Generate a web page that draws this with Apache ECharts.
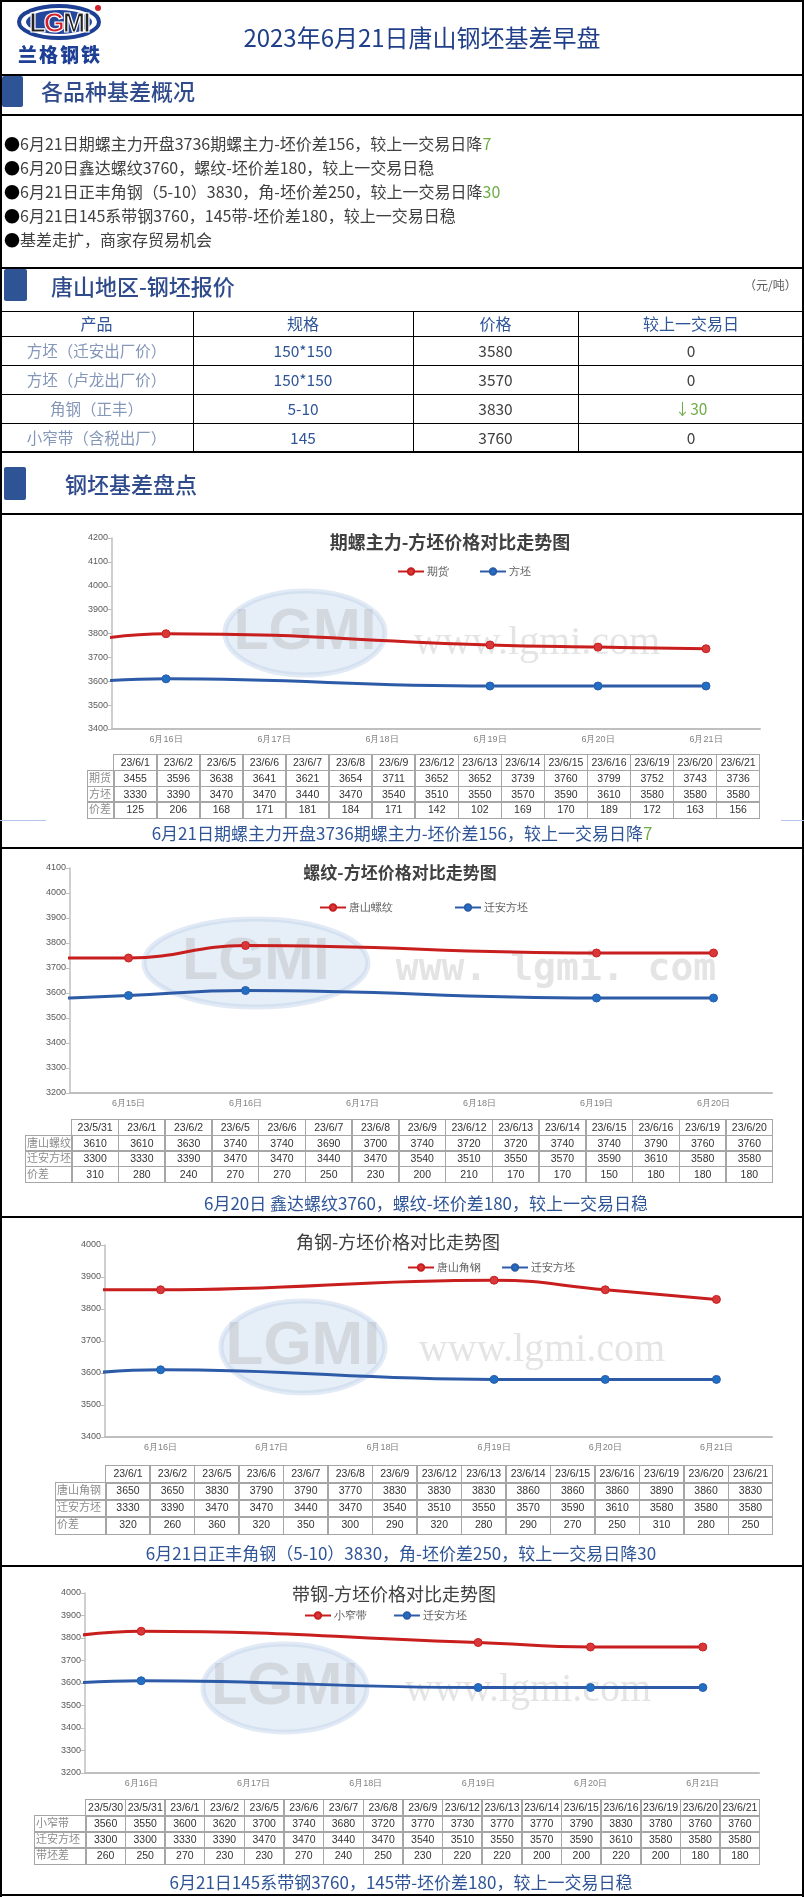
<!DOCTYPE html>
<html>
<head>
<meta charset="utf-8">
<script src="https://cdn.jsdelivr.net/npm/echarts@6/dist/echarts.min.js"></script>
<style>
body{margin:0;background:#fff;}
#page{position:relative;width:804px;height:1897px;overflow:hidden;font-family:"Noto Sans CJK SC",sans-serif;background:#fff;}
#chart{position:absolute;left:0;top:0;width:804px;height:1897px;}
.a{position:absolute;white-space:nowrap;}
.ln{position:absolute;background:#000;}
.cell{position:absolute;box-sizing:border-box;border:1.5px solid #a6a6a6;text-align:center;overflow:hidden;white-space:nowrap;font-family:"Liberation Sans","Noto Sans CJK SC",sans-serif;color:#333;}
.cap{position:absolute;left:0;width:804px;text-align:center;color:#2f5597;font-size:17px;white-space:nowrap;}
.blk{position:absolute;background:#2f5496;border-radius:2px;}
.sec{position:absolute;color:#2f4b8c;font-size:22px;font-weight:500;white-space:nowrap;}
.g{color:#70ad47;}
</style>
</head>
<body>
<div id="page">
  <div id="chart"></div>
  <div id="overlay"></div>
</div>
<script>
// ---- 顶部报价表 ----
var priceHead = ['产品', '规格', '价格', '较上一交易日'];
var priceProduct = ['方坯（迁安出厂价）', '方坯（卢龙出厂价）', '角钢（正丰）', '小窄带（含税出厂）'];
var priceSpec = ['150*150', '150*150', '5-10', '145'];
var pricePrice = [3580, 3570, 3830, 3760];
var priceChange = ['0', '0', '↓30', '0'];

// ---- 图1 期螺主力-方坯 ----
var c1Days = ['6月16日', '6月17日', '6月18日', '6月19日', '6月20日', '6月21日'];
var c1Dates = ['23/6/1', '23/6/2', '23/6/5', '23/6/6', '23/6/7', '23/6/8', '23/6/9', '23/6/12', '23/6/13', '23/6/14', '23/6/15', '23/6/16', '23/6/19', '23/6/20', '23/6/21'];
var c1Futures = [3455, 3596, 3638, 3641, 3621, 3654, 3711, 3652, 3652, 3739, 3760, 3799, 3752, 3743, 3736];
var c1Billet = [3330, 3390, 3470, 3470, 3440, 3470, 3540, 3510, 3550, 3570, 3590, 3610, 3580, 3580, 3580];
var c1Spread = [125, 206, 168, 171, 181, 184, 171, 142, 102, 169, 170, 189, 172, 163, 156];

// ---- 图2 螺纹-方坯 ----
var c2Days = ['6月15日', '6月16日', '6月17日', '6月18日', '6月19日', '6月20日'];
var c2Dates = ['23/5/31', '23/6/1', '23/6/2', '23/6/5', '23/6/6', '23/6/7', '23/6/8', '23/6/9', '23/6/12', '23/6/13', '23/6/14', '23/6/15', '23/6/16', '23/6/19', '23/6/20'];
var c2Rebar = [3610, 3610, 3630, 3740, 3740, 3690, 3700, 3740, 3720, 3720, 3740, 3740, 3790, 3760, 3760];
var c2Billet = [3300, 3330, 3390, 3470, 3470, 3440, 3470, 3540, 3510, 3550, 3570, 3590, 3610, 3580, 3580];
var c2Spread = [310, 280, 240, 270, 270, 250, 230, 200, 210, 170, 170, 150, 180, 180, 180];

// ---- 图3 角钢-方坯 ----
var c3Days = ['6月16日', '6月17日', '6月18日', '6月19日', '6月20日', '6月21日'];
var c3Dates = ['23/6/1', '23/6/2', '23/6/5', '23/6/6', '23/6/7', '23/6/8', '23/6/9', '23/6/12', '23/6/13', '23/6/14', '23/6/15', '23/6/16', '23/6/19', '23/6/20', '23/6/21'];
var c3Angle = [3650, 3650, 3830, 3790, 3790, 3770, 3830, 3830, 3830, 3860, 3860, 3860, 3890, 3860, 3830];
var c3Billet = [3330, 3390, 3470, 3470, 3440, 3470, 3540, 3510, 3550, 3570, 3590, 3610, 3580, 3580, 3580];
var c3Spread = [320, 260, 360, 320, 350, 300, 290, 320, 280, 290, 270, 250, 310, 280, 250];

// ---- 图4 带钢-方坯 ----
var c4Days = ['6月16日', '6月17日', '6月18日', '6月19日', '6月20日', '6月21日'];
var c4Dates = ['23/5/30', '23/5/31', '23/6/1', '23/6/2', '23/6/5', '23/6/6', '23/6/7', '23/6/8', '23/6/9', '23/6/12', '23/6/13', '23/6/14', '23/6/15', '23/6/16', '23/6/19', '23/6/20', '23/6/21'];
var c4Strip = [3560, 3550, 3600, 3620, 3700, 3740, 3680, 3720, 3770, 3730, 3770, 3770, 3790, 3830, 3780, 3760, 3760];
var c4Billet = [3300, 3300, 3330, 3390, 3470, 3470, 3440, 3470, 3540, 3510, 3550, 3570, 3590, 3610, 3580, 3580, 3580];
var c4Spread = [260, 250, 270, 230, 230, 270, 240, 250, 230, 220, 220, 200, 200, 220, 200, 180, 180];

var RED = '#c81e1e', BLUE = '#2d5ba8';

/* 图表布局 */
var layouts = [
  {plot: [112, 538, 760, 729], ymin: 3400, ymax: 4200, days: c1Days, dates: c1Dates,
   title: '期螺主力-方坯价格对比走势图', tx: 450, ty: 542, tw: 'bold', ts: 18,
   lx: 392, ly: 568, lgap: 30, names: ['期货', '方坯'], vals: [c1Futures, c1Billet],
   wm: {cx: 305, cy: 633, rx: 80, ry: 42, tx: 537, ty: 643, mono: false},
   tbl: {x: 87, lw: 26, w: 759, y: 754, h: 15.75, labels: ['期货', '方坯', '价差'], rows: [c1Futures, c1Billet, c1Spread]}},
  {plot: [70, 868, 772, 1093], ymin: 3200, ymax: 4100, days: c2Days, dates: c2Dates,
   title: '螺纹-方坯价格对比走势图', tx: 400, ty: 873, tw: 'bold', ts: 17,
   lx: 314, ly: 904, lgap: 61, names: ['唐山螺纹', '迁安方坯'], vals: [c2Rebar, c2Billet],
   wm: {cx: 256, cy: 963, rx: 112, ry: 44, tx: 556, ty: 970, mono: true},
   tbl: {x: 25, lw: 46, w: 772, y: 1119, h: 15.5, labels: ['唐山螺纹', '迁安方坯', '价差'], rows: [c2Rebar, c2Billet, c2Spread]}},
  {plot: [105, 1245, 772, 1437], ymin: 3400, ymax: 4000, days: c3Days, dates: c3Dates,
   title: '角钢-方坯价格对比走势图', tx: 398, ty: 1242, tw: 'normal', ts: 18,
   lx: 402, ly: 1264, lgap: 20, names: ['唐山角钢', '迁安方坯'], vals: [c3Angle, c3Billet],
   wm: {cx: 303, cy: 1347, rx: 82, ry: 46, tx: 542, ty: 1350, mono: false},
   tbl: {x: 55, lw: 50, w: 772, y: 1465, h: 17, labels: ['唐山角钢', '迁安方坯', '价差'], rows: [c3Angle, c3Billet, c3Spread]}},
  {plot: [85, 1593, 759, 1773], ymin: 3200, ymax: 4000, days: c4Days, dates: c4Dates,
   title: '带钢-方坯价格对比走势图', tx: 394, ty: 1594, tw: 'normal', ts: 18,
   lx: 299, ly: 1612, lgap: 26, names: ['小窄带', '迁安方坯'], vals: [c4Strip, c4Billet],
   wm: {cx: 285, cy: 1688, rx: 82, ry: 44, tx: 528, ty: 1690, mono: false},
   tbl: {x: 34, lw: 51, w: 759, y: 1799, h: 16, labels: ['小窄带', '迁安方坯', '带坯差'], rows: [c4Strip, c4Billet, c4Spread]}}
];

// 日期 -> 横轴位置（以第一个分类日为0.5）
function toPoints(dates, values, firstLabel) {
  var m = /(\d+)月(\d+)日/.exec(firstLabel);
  var start = new Date(2023, +m[1] - 1, +m[2]);
  return dates.map(function (d, k) {
    var p = d.split('/');
    var t = new Date(2000 + (+p[0]), +p[1] - 1, +p[2]);
    return [(t - start) / 864e5 + 0.5, values[k]];
  });
}

var option = {animation: false, grid: [], xAxis: [], yAxis: [], series: [], legend: [], graphic: []};

layouts.forEach(function (L, i) {
  var p = L.plot;
  option.grid.push({left: p[0], top: p[1], width: p[2] - p[0], height: p[3] - p[1]});
  option.xAxis.push({
    type: 'category', gridIndex: i, data: L.days, boundaryGap: true,
    axisLine: {lineStyle: {color: '#bfbfbf', width: 2}},
    axisTick: {length: 5, lineStyle: {color: '#bfbfbf', width: 1.5}},
    axisLabel: {color: '#7f7f7f', fontSize: 9, margin: 6}
  });
  option.xAxis.push({type: 'value', gridIndex: i, min: 0, max: L.days.length, show: false});
  option.yAxis.push({
    type: 'value', gridIndex: i, min: L.ymin, max: L.ymax, interval: 100,
    axisLine: {show: true, lineStyle: {color: '#bfbfbf', width: 1.5}},
    axisTick: {show: true, length: 4, lineStyle: {color: '#bfbfbf'}},
    splitLine: {show: false},
    axisLabel: {color: '#595959', fontSize: 9, margin: 4, formatter: function (v) { return String(v); }}
  });
  [RED, BLUE].forEach(function (col, s) {
    option.series.push({
      type: 'line', name: L.names[s], xAxisIndex: i * 2 + 1, yAxisIndex: i,
      data: toPoints(L.dates, L.vals[s], L.days[0]),
      smooth: 0.45, symbol: 'circle', symbolSize: 8, clip: true,
      lineStyle: {color: col, width: 3},
      itemStyle: {color: s === 0 ? '#d8383a' : '#1f6fc5', borderColor: col, borderWidth: 1}
    });
  });
  option.legend.push({
    left: L.lx, top: L.ly - 7, itemGap: L.lgap, itemWidth: 26, itemHeight: 8,
    selectedMode: false, data: L.names,
    textStyle: {fontSize: 11, color: '#595959', padding: [0, 0, 0, -2]}
  });
  // 标题
  option.graphic.push({
    type: 'text', x: L.tx, y: L.ty, z: 10,
    style: {text: L.title, fill: '#404040', textAlign: 'center', textVerticalAlign: 'middle',
      font: L.tw + ' ' + L.ts + 'px "Noto Sans CJK SC"'}
  });
  // 水印
  var w = L.wm;
  option.graphic.push({
    type: 'ellipse', z: 0, shape: {cx: w.cx, cy: w.cy, rx: w.rx, ry: w.ry},
    style: {fill: 'rgba(205,221,241,0.5)', stroke: 'rgba(190,208,232,0.45)', lineWidth: 5}
  });
  option.graphic.push({
    type: 'text', z: 1, x: w.cx, y: w.cy,
    style: {text: 'LGMI', fill: 'rgba(165,165,165,0.3)', textAlign: 'center', textVerticalAlign: 'middle',
      font: 'bold ' + Math.round(w.ry * 1.35) + 'px "Liberation Sans"'}
  });
  option.graphic.push({
    type: 'text', z: 1, x: w.tx, y: w.ty,
    style: {text: w.mono ? 'www. lgmi. com' : 'www.lgmi.com', fill: 'rgba(165,165,165,0.3)',
      textAlign: 'center', textVerticalAlign: 'middle',
      font: w.mono ? 'bold 38px "DejaVu Sans Mono"' : '40px "Liberation Serif"'}
  });
});

var chart = echarts.init(document.getElementById('chart'));
chart.setOption(option);

// ---- HTML 部分 ----
var ov = document.getElementById('overlay');
function add(html) { ov.insertAdjacentHTML('beforeend', html); }
function line(x, y, w, h, c) { add('<div class="ln" style="left:' + x + 'px;top:' + y + 'px;width:' + w + 'px;height:' + h + 'px;' + (c ? 'background:' + c : '') + '"></div>'); }

// 外框与分隔线
line(0, 0, 804, 2); line(0, 0, 2, 1897); line(802, 0, 2, 1897); line(0, 1894, 804, 2);
[74, 114, 267, 451, 513, 847, 1216, 1565].forEach(function (y) { line(0, y, 804, 2); });
line(0, 311, 804, 1.2); [336, 365, 394, 423].forEach(function (y) { line(0, y, 804, 1.2); });
[193, 413, 578].forEach(function (x) { line(x, 311, 1.2, 141); });
line(0, 820, 46, 1, '#b4c6e7'); line(781, 820, 23, 1, '#b4c6e7');

// logo
add('<svg class="a" style="left:14px;top:3px" width="92" height="64" viewBox="0 0 92 64">' +
  '<ellipse cx="45" cy="19" rx="40" ry="16" fill="none" stroke="#1d3f94" stroke-width="4"/>' +
  '<ellipse cx="45" cy="19" rx="33" ry="12" fill="#24479c"/>' +
  '<text x="45" y="29" text-anchor="middle" font-family="Liberation Sans" font-weight="bold" font-size="27" letter-spacing="-2" stroke="#fff" stroke-width="1.2">' +
  '<tspan fill="#222">L</tspan><tspan fill="#d0202a">G</tspan><tspan fill="#222">MI</tspan></text>' +
  '<circle cx="84" cy="5" r="3" fill="#d0202a"/>' +
  '<text x="4" y="59" font-family="Noto Sans CJK SC" font-weight="900" font-size="19" fill="#1d3f94" letter-spacing="2">兰格钢铁</text></svg>');

add('<div class="a" style="left:0;width:844px;top:19px;text-align:center;color:#203f8a;font-size:24px;line-height:36px">2023年6月21日唐山钢坯基差早盘</div>');

// 栏目标题
add('<div class="blk" style="left:2px;top:76px;width:21px;height:31px"></div>');
add('<div class="sec" style="left:41px;top:75px;line-height:30px">各品种基差概况</div>');
add('<div class="blk" style="left:4px;top:269px;width:23px;height:32px"></div>');
add('<div class="sec" style="left:51px;top:270px;line-height:30px">唐山地区-钢坯报价</div>');
add('<div class="a" style="left:744px;top:277px;font-size:12px;color:#595959;line-height:16px">（元/吨）</div>');
add('<div class="blk" style="left:4px;top:467px;width:22px;height:33px"></div>');
add('<div class="sec" style="left:65px;top:468px;line-height:30px">钢坯基差盘点</div>');

// 要点
var bullets = [
  '6月21日期螺主力开盘3736期螺主力-坯价差156，较上一交易日降<span class="g">7</span>',
  '6月20日鑫达螺纹3760，螺纹-坯价差180，较上一交易日稳',
  '6月21日正丰角钢（5-10）3830，角-坯价差250，较上一交易日降<span class="g">30</span>',
  '6月21日145系带钢3760，145带-坯价差180，较上一交易日稳',
  '基差走扩，商家存贸易机会'
];
bullets.forEach(function (b, k) {
  add('<div class="a" style="left:4px;top:' + (131 + k * 24) + 'px;font-size:16px;line-height:24px;color:#404040"><span style="color:#000">●</span>' + b + '</div>');
});

// 报价表
var colX = [0, 193, 413, 578, 804];
var rowY = [311, 336, 365, 394, 423, 452];
function pcell(c, r, text, color) {
  add('<div class="a" style="left:' + colX[c] + 'px;width:' + (colX[c + 1] - colX[c]) + 'px;top:' + rowY[r] + 'px;height:' + (rowY[r + 1] - rowY[r]) + 'px;line-height:' + (rowY[r + 1] - rowY[r]) + 'px;text-align:center;font-size:' + (r === 0 ? 16 : 15.5) + 'px;color:' + color + '">' + text + '</div>');
}
priceHead.forEach(function (h, c) { pcell(c, 0, h, '#2f5597'); });
for (var r = 0; r < 4; r++) {
  pcell(0, r + 1, priceProduct[r], '#8497b8');
  pcell(1, r + 1, priceSpec[r], '#2f5597');
  pcell(2, r + 1, pricePrice[r], '#404040');
  pcell(3, r + 1, priceChange[r], priceChange[r].indexOf('↓') === 0 ? '#70ad47' : '#404040');
}

// 图下数据表
layouts.forEach(function (L) {
  var T = L.tbl, n = L.dates.length;
  var cw = (T.w - T.x - T.lw) / n;
  function cell(x, y, w, h, text, st) {
    add('<div class="cell" style="left:' + x + 'px;top:' + y + 'px;width:' + (w + 1.5) + 'px;height:' + (h + 1.5) + 'px;line-height:' + (h - 1.5) + 'px;' + st + '">' + text + '</div>');
  }
  L.dates.forEach(function (d, k) {
    cell(T.x + T.lw + k * cw, T.y, cw, T.h, d, 'font-size:10.5px;color:#333');
  });
  T.rows.forEach(function (row, r) {
    var y = T.y + (r + 1) * T.h;
    cell(T.x, y, T.lw, T.h, T.labels[r], 'font-size:11px;color:#8c8c8c;text-align:left;padding-left:1px');
    row.forEach(function (v, k) {
      cell(T.x + T.lw + k * cw, y, cw, T.h, v, 'font-size:10.5px;color:#333');
    });
  });
});

// 图下说明
var caps = [
  [833, '6月21日期螺主力开盘3736期螺主力-坯价差156，较上一交易日降<span class="g">7</span>'],
  [1203, '6月20日 鑫达螺纹3760，螺纹-坯价差180，较上一交易日稳'],
  [1553, '6月21日正丰角钢（5-10）3830，角-坯价差250，较上一交易日降30'],
  [1882, '6月21日145系带钢3760，145带-坯价差180，较上一交易日稳']
];
var capX = [402, 426, 401, 401];
caps.forEach(function (c, k) {
  add('<div class="cap" style="left:' + (capX[k] - 402) + 'px;top:' + (c[0] - 12) + 'px;line-height:24px">' + c[1] + '</div>');
});
</script>
</body>
</html>
